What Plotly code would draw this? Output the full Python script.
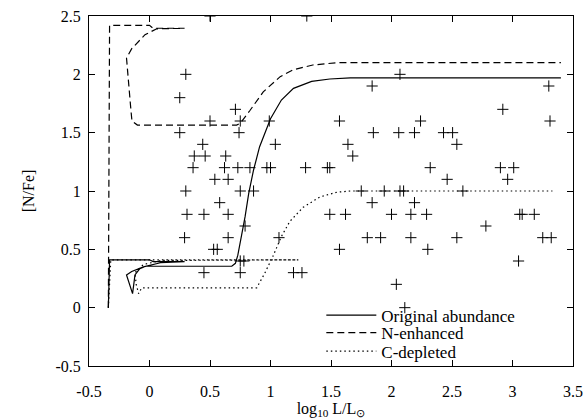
import plotly.graph_objects as go

# Observed stars: log L/Lsun and [N/Fe]
obs_x = [0.50, 1.30,
         0.30, 2.07,
         1.84, 3.30,
         0.25,
         0.71, 2.92,
         0.50, 0.75, 0.99, 1.57, 2.24, 3.31,
         0.25, 0.74, 1.85, 2.06, 2.19, 2.43, 2.505,
         0.44, 1.04, 1.64, 2.54,
         0.37, 0.46, 0.63, 1.68,
         0.36, 0.62, 0.73, 0.83, 0.97, 1.00, 1.29, 1.47, 1.49, 2.32, 2.90, 3.01,
         0.54, 0.65, 2.46, 2.96,
         0.30, 0.75, 0.86, 1.75, 1.94, 2.07, 2.10, 2.59,
         0.58, 1.84, 2.19,
         0.31, 0.45, 0.65, 1.49, 1.62, 2.00, 2.16, 2.29, 3.06, 3.08, 3.18,
         0.79, 2.78,
         0.29, 0.65, 1.07, 1.80, 1.91, 2.16, 2.54, 3.25, 3.32,
         0.53, 0.56, 1.57, 2.30,
         0.75, 0.78, 3.05,
         0.45, 0.75, 1.19, 1.26,
         2.04,
         2.11]
obs_y = [2.5, 2.5,
         2.0, 2.0,
         1.9, 1.9,
         1.8,
         1.7, 1.7,
         1.6, 1.6, 1.6, 1.6, 1.6, 1.6,
         1.5, 1.5, 1.5, 1.5, 1.5, 1.5, 1.5,
         1.4, 1.4, 1.4, 1.4,
         1.3, 1.3, 1.3, 1.3,
         1.2, 1.2, 1.2, 1.2, 1.2, 1.2, 1.2, 1.2, 1.2, 1.2, 1.2, 1.2,
         1.1, 1.1, 1.1, 1.1,
         1.0, 1.0, 1.0, 1.0, 1.0, 1.0, 1.0, 1.0,
         0.9, 0.9, 0.9,
         0.8, 0.8, 0.8, 0.8, 0.8, 0.8, 0.8, 0.8, 0.8, 0.8, 0.8,
         0.7, 0.7,
         0.6, 0.6, 0.6, 0.6, 0.6, 0.6, 0.6, 0.6, 0.6,
         0.5, 0.5, 0.5, 0.5,
         0.4, 0.4, 0.4,
         0.3, 0.3, 0.3, 0.3,
         0.2,
         0.0]

# Model tracks
orig_x = [-0.34, -0.33, 0.00, 0.03, 0.29, 0.15, 0.09, -0.05, -0.147, -0.19, -0.17, -0.15,
          -0.14, -0.13, -0.12, -0.08, -0.03, 0.68, 0.71, 0.73, 0.76, 0.79, 0.82, 0.86,
          0.91, 0.96, 1.00, 1.09, 1.19, 1.34, 1.49, 1.66, 3.40]
orig_y = [0.00, 0.41, 0.41, 0.395, 0.395, 0.392, 0.385, 0.35, 0.31, 0.28, 0.22, 0.15,
          0.12, 0.20, 0.28, 0.335, 0.355, 0.355, 0.38, 0.45, 0.61, 0.78, 0.98, 1.18,
          1.38, 1.52, 1.62, 1.78, 1.88, 1.94, 1.96, 1.97, 1.97]

nenh_x = [-0.34, -0.33, 0.00, 0.03, 0.29, 0.15, 0.06, -0.037, -0.147, -0.19, -0.17,
          -0.155, -0.145, -0.10, 0.72, 0.75, 0.83, 0.94, 1.08, 1.19, 1.35, 1.55, 3.40]
nenh_y = [0.00, 2.42, 2.42, 2.395, 2.395, 2.392, 2.39, 2.34, 2.22, 2.14, 1.93,
          1.71, 1.60, 1.565, 1.565, 1.58, 1.69, 1.85, 1.98, 2.04, 2.08, 2.10, 2.10]

cdep_x = [-0.34, -0.32, 1.23, 0.30, 0.10, -0.05, -0.12, -0.11, -0.09, -0.065, 0.886,
          0.95, 1.02, 1.09, 1.16, 1.27, 1.41, 1.55, 1.66, 3.33]
cdep_y = [0.00, 0.41, 0.41, 0.41, 0.405, 0.37, 0.30, 0.20, 0.12, 0.17, 0.17,
          0.29, 0.44, 0.61, 0.74, 0.86, 0.95, 0.99, 1.00, 1.00]

x_ticks = [-0.5, 0, 0.5, 1, 1.5, 2, 2.5, 3, 3.5]
x_tick_text = ["-0.5", "0", "0.5", "1", "1.5", "2", "2.5", "3", "3.5"]
y_ticks = [-0.5, 0, 0.5, 1, 1.5, 2, 2.5]
y_tick_text = ["-0.5", "0", "0.5", "1", "1.5", "2", "2.5"]

FONT = "Liberation Serif"

fig = go.Figure()
fig.add_trace(go.Scatter(x=obs_x, y=obs_y, mode="markers", showlegend=False,
                         marker=dict(symbol="cross-thin-open", size=8,
                                     line=dict(color="black", width=1), color="black")))
fig.add_trace(go.Scatter(x=orig_x, y=orig_y, mode="lines", name="Original abundance",
                         legend="legend", line=dict(color="black", width=1.2)))
fig.add_trace(go.Scatter(x=nenh_x, y=nenh_y, mode="lines", name="N-enhanced",
                         legend="legend2",
                         line=dict(color="black", width=1.2, dash="7px,4px")))
fig.add_trace(go.Scatter(x=cdep_x, y=cdep_y, mode="lines", name="C-depleted",
                         legend="legend3",
                         line=dict(color="black", width=1.2, dash="1.5px,3px")))

axis_common = dict(showline=True, linecolor="black", linewidth=1, mirror="allticks",
                   ticks="inside", ticklen=6, tickcolor="black", showgrid=False,
                   zeroline=False, automargin=True,
                   tickfont=dict(family=FONT, size=16, color="black"))

leg_common = dict(xanchor="left", yanchor="middle", bgcolor="rgba(0,0,0,0)",
                  borderwidth=0, font=dict(family=FONT, size=17, color="black"),
                  itemwidth=50)

fig.update_layout(
    width=587, height=419, autosize=False,
    margin=dict(l=89, r=14, t=16, b=53, autoexpand=False),
    paper_bgcolor="white", plot_bgcolor="white",
    font=dict(family=FONT, size=16, color="black"),
    xaxis=dict(range=[-0.5, 3.5], tickvals=x_ticks, ticktext=x_tick_text,
               ticklabelstandoff=11,
               title=dict(text="log<sub>10</sub> L/L<sub>⊙</sub>", standoff=2,
                          font=dict(family=FONT, size=16)),
               **axis_common),
    yaxis=dict(range=[-0.5, 2.5], tickvals=y_ticks, ticktext=y_tick_text,
               ticklabelstandoff=4,
               title=dict(text="[N/Fe]", standoff=16, font=dict(family=FONT, size=16)),
               **axis_common),
    legend=dict(x=0.48, y=0.144, **leg_common),
    legend2=dict(x=0.48, y=0.094, **leg_common),
    legend3=dict(x=0.48, y=0.041, **leg_common),
)

fig.write_html("out.html", config={"displayModeBar": False},
               post_script="document.body.style.margin='0';")
